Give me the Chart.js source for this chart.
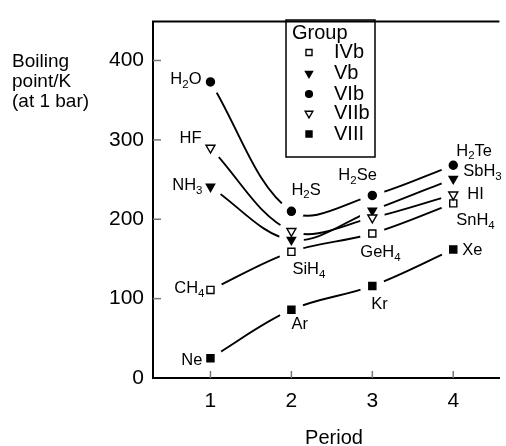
<!DOCTYPE html>
<html><head><meta charset="utf-8">
<script src="https://cdn.jsdelivr.net/npm/chart.js@4"></script>
<style>html,body{margin:0;padding:0;background:#fff}</style>
</head><body>
<canvas id="c" width="506" height="446"></canvas>
<script>
// ---- data ----
const periods = [1, 2, 3, 4];
const groups = ['IVb', 'Vb', 'VIb', 'VIIb', 'VIII'];
const bpIVb  = [111, 159, 182, 220];
const bpVb   = [241, 174, 211, 251];
const bpVIb  = [373, 210, 230, 268];
const bpVIIb = [290, 185, 202, 231];
const bpVIII = [25, 86, 116, 162];
const namesIVb  = ['CH4', 'SiH4', 'GeH4', 'SnH4'];
const namesVb   = ['NH3', '', '', 'SbH3'];
const namesVIb  = ['H2O', 'H2S', 'H2Se', 'H2Te'];
const namesVIIb = ['HF', '', '', 'HI'];
const namesVIII = ['Ne', 'Ar', 'Kr', 'Xe'];
const yTicks = [0, 100, 200, 300, 400];
const xTicks = [1, 2, 3, 4];
const yTitleLines = ['Boiling', 'point/K', '(at 1 bar)'];
const xTitle = 'Period';
const legendTitle = 'Group';

// ---- styles / layout (not data) ----
const FONT = '"Liberation Sans", Arial, sans-serif';
const HALO = 12.5;
const markerStyle = {
  IVb:  {shape: 'rect', filled: false, r: 5},
  Vb:   {shape: 'triangle', filled: true, r: 4.8},
  VIb:  {shape: 'circle', filled: true, r: 4},
  VIIb: {shape: 'triangle', filled: false, r: 5.2},
  VIII: {shape: 'rect', filled: true, r: 5}
};
const labelPlace = {
  'H2O': [-9, -2, 'right'], 'HF': [-9, -9, 'right'], 'NH3': [-8, -1, 'right'],
  'CH4': [-6, -1, 'right'], 'Ne': [-8, 2, 'right'],
  'H2S': [0, -21, 'left'], 'SiH4': [1, 18, 'left'], 'Ar': [0, 15, 'left'],
  'H2Se': [-34, -20, 'left'], 'GeH4': [-12, 19, 'left'], 'Kr': [-1, 19, 'left'],
  'H2Te': [3, -14, 'left'], 'SbH3': [10, -7, 'left'], 'HI': [14, 0, 'left'],
  'SnH4': [3, 17, 'left'], 'Xe': [9, 1, 'left']
};

const seriesValues = {IVb: bpIVb, Vb: bpVb, VIb: bpVIb, VIIb: bpVIIb, VIII: bpVIII};
const seriesNames = {IVb: namesIVb, Vb: namesVb, VIb: namesVIb, VIIb: namesVIIb, VIII: namesVIII};
const pts = g => periods.map((p, i) => ({x: p, y: seriesValues[g][i]}));

const datasets = [];
groups.forEach(g => {
  datasets.push({label: g + ' line', data: pts(g), borderColor: '#000', borderWidth: 1.9,
    pointRadius: 0, tension: 0.35, fill: false, isLine: true});
});
groups.forEach(g => {
  const m = markerStyle[g];
  datasets.push({label: g, data: pts(g), showLine: false, pointRadius: m.r,
    pointStyle: m.shape, pointRotation: m.shape === 'triangle' ? 180 : 0,
    pointBackgroundColor: m.filled ? '#000' : '#fff', pointBorderColor: '#000',
    pointBorderWidth: 1.4, isLine: false});
});

function drawMarker(ctx, m, x, y) {
  ctx.save();
  ctx.beginPath();
  const r = m.r;
  if (m.shape === 'circle') ctx.arc(x, y, r, 0, Math.PI * 2);
  else if (m.shape === 'rect') { const s = r * Math.SQRT1_2; ctx.rect(x - s, y - s, 2 * s, 2 * s); }
  else { const w = r * Math.sqrt(3) / 2; ctx.moveTo(x, y + r); ctx.lineTo(x - w, y - r / 2); ctx.lineTo(x + w, y - r / 2); ctx.closePath(); }
  ctx.fillStyle = m.filled ? '#000' : '#fff';
  ctx.fill();
  ctx.lineWidth = 1.4; ctx.strokeStyle = '#000'; ctx.stroke();
  ctx.restore();
}

function drawFormula(ctx, text, x, y, align) {
  const parts = text.match(/[A-Za-z]+|\d+/g);
  const main = '16.5px ' + FONT, sub = '11.5px ' + FONT;
  let total = 0;
  parts.forEach(p => { ctx.font = /\d/.test(p) ? sub : main; total += ctx.measureText(p).width; });
  let cx = align === 'right' ? x - total : x;
  ctx.textAlign = 'left'; ctx.textBaseline = 'middle'; ctx.fillStyle = '#000';
  parts.forEach(p => {
    const isSub = /\d/.test(p);
    ctx.font = isSub ? sub : main;
    ctx.fillText(p, cx, isSub ? y + 5 : y);
    cx += ctx.measureText(p).width;
  });
}

const decor = {
  id: 'decor',
  beforeDatasetsDraw(chart) {
    const {ctx, chartArea: a, scales: {x, y}} = chart;
    ctx.save();
    ctx.strokeStyle = '#777'; ctx.lineWidth = 1.5;
    yTicks.forEach(v => { if (v === 0) return; const py = y.getPixelForValue(v);
      ctx.beginPath(); ctx.moveTo(a.left, py); ctx.lineTo(a.left + 8, py); ctx.stroke(); });
    xTicks.forEach(v => { const px = x.getPixelForValue(v);
      ctx.beginPath(); ctx.moveTo(px, a.bottom); ctx.lineTo(px, a.bottom - 7); ctx.stroke(); });
    ctx.strokeStyle = '#000'; ctx.lineWidth = 2;
    ctx.beginPath(); ctx.moveTo(a.left - 1, a.top); ctx.lineTo(a.right, a.top); ctx.stroke();
    ctx.restore();
  },
  afterDatasetsDraw(chart) {
    const {ctx} = chart;
    const markerMetas = [];
    chart.data.datasets.forEach((ds, i) => { if (!ds.isLine) markerMetas.push(chart.getDatasetMeta(i)); });
    ctx.save();
    ctx.fillStyle = '#ffffff';
    markerMetas.forEach(meta => meta.data.forEach(pt => {
      ctx.beginPath(); ctx.arc(pt.x, pt.y, HALO, 0, Math.PI * 2); ctx.fill();
    }));
    ctx.restore();
    markerMetas.forEach(meta => meta.data.forEach(pt => { ctx.save(); pt.draw(ctx, chart.chartArea); ctx.restore(); }));
  },
  afterDraw(chart) {
    const {ctx, scales: {x, y}} = chart;
    ctx.save();
    groups.forEach(g => {
      seriesNames[g].forEach((n, i) => {
        if (!n) return;
        const pl = labelPlace[n];
        const px = x.getPixelForValue(periods[i]), py = y.getPixelForValue(seriesValues[g][i]);
        drawFormula(ctx, n, px + pl[0], py + pl[1], pl[2]);
      });
    });
    ctx.fillStyle = '#000'; ctx.textBaseline = 'middle';
    ctx.font = '19px ' + FONT; ctx.textAlign = 'left';
    yTitleLines.forEach((t, i) => ctx.fillText(t, 12, 62 + i * 20));
    ctx.font = '20px ' + FONT; ctx.textAlign = 'center';
    ctx.fillText(xTitle, 334, 438);
    ctx.lineWidth = 1.5; ctx.strokeStyle = '#000';
    ctx.strokeRect(286, 20, 89, 137);
    ctx.textAlign = 'left'; ctx.font = '20px ' + FONT;
    ctx.fillText(legendTitle, 292, 33);
    const rowsY = [52.5, 73.5, 94, 113.5, 134];
    groups.forEach((g, i) => {
      const m = Object.assign({}, markerStyle[g], {r: markerStyle[g].r * 0.85});
      drawMarker(ctx, m, 309, rowsY[i]);
      ctx.fillStyle = '#000'; ctx.font = '20px ' + FONT;
      ctx.fillText(g, 334, rowsY[i]);
    });
    ctx.restore();
  }
};

new Chart(document.getElementById('c'), {
  type: 'line',
  data: {datasets},
  plugins: [decor],
  options: {
    responsive: false, animation: false, devicePixelRatio: 1,
    layout: {padding: {left: 0, top: 14, right: 0, bottom: 0}},
    plugins: {legend: {display: false}, tooltip: {enabled: false}},
    scales: {
      x: {type: 'linear', min: 0.29, max: 4.57,
        afterBuildTicks: s => { s.ticks = xTicks.map(v => ({value: v})); },
        afterFit: s => { s.height = 68; },
        grid: {drawOnChartArea: false, drawTicks: false},
        border: {display: true, color: '#000', width: 2},
        ticks: {font: {family: FONT, size: 21}, color: '#000', padding: 11, callback: v => String(v)}
      },
      y: {type: 'linear', min: 0, max: 449,
        afterBuildTicks: s => { s.ticks = yTicks.map(v => ({value: v})); },
        afterFit: s => { s.width = 153; },
        grid: {drawOnChartArea: false, drawTicks: false},
        border: {display: true, color: '#000', width: 2},
        ticks: {font: {family: FONT, size: 21}, color: '#000', padding: 9, callback: v => String(v)}
      }
    }
  }
});
</script>
</body></html>
